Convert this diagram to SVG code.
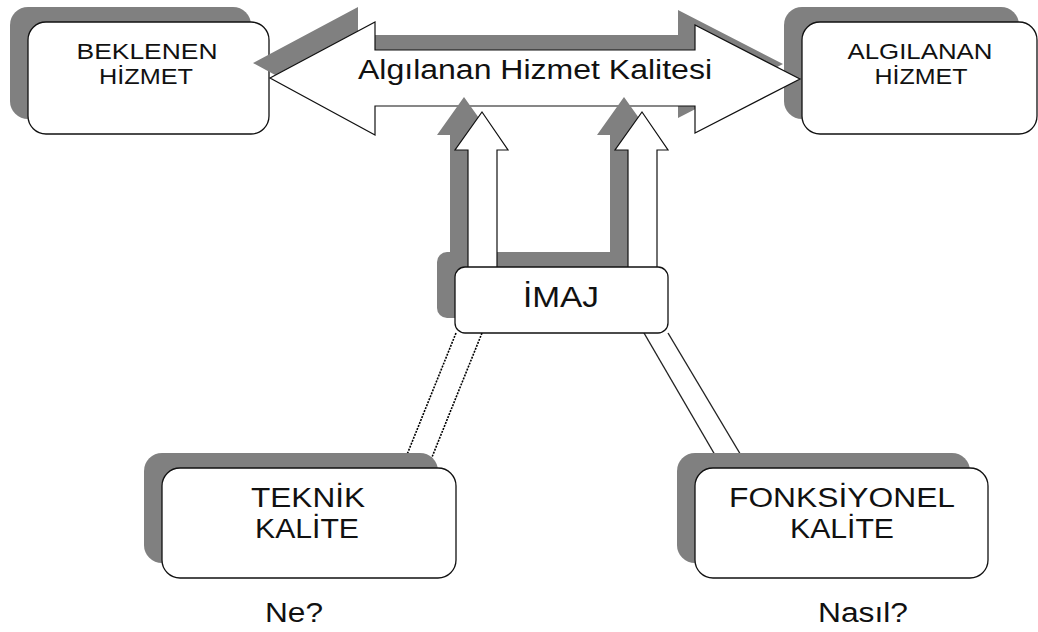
<svg xmlns="http://www.w3.org/2000/svg" width="1038" height="632" viewBox="0 0 1038 632">
<style>
.sh{fill:#808080;stroke:none}
.bx{fill:#fff;stroke:#111;stroke-width:1.3}
.ar{fill:#fff;stroke:#111;stroke-width:1.2}
.t{font-family:"Liberation Sans",Arial,sans-serif;fill:#111;text-anchor:middle}
.dot{stroke:#000;stroke-width:1.6;stroke-dasharray:2 1.2;fill:none}
.sol{stroke:#222;stroke-width:1.4;fill:none}
</style>
<rect width="1038" height="632" fill="#fff"/>
<g id="beklenen">
<rect class="sh" x="10" y="7" width="241" height="112" rx="18"/>
<rect class="bx" x="28" y="22" width="241" height="112" rx="18"/>
<text class="t" font-size="22" x="147" y="59" textLength="141" lengthAdjust="spacingAndGlyphs">BEKLENEN</text>
<text class="t" font-size="22" x="146" y="84" textLength="94" lengthAdjust="spacingAndGlyphs">HİZMET</text>
</g>
<g id="algilanan">
<rect class="sh" x="784" y="7" width="235" height="112" rx="18"/>
<rect class="bx" x="802" y="22" width="235" height="112" rx="18"/>
<text class="t" font-size="22" x="920" y="59" textLength="145" lengthAdjust="spacingAndGlyphs">ALGILANAN</text>
<text class="t" font-size="22" x="921" y="84" textLength="93" lengthAdjust="spacingAndGlyphs">HİZMET</text>
</g>
<g id="kalite-arrow">
<path class="sh" d="M253,63 L358,7 L358,35 L678,35 L678,10 L783,64 L678,118 L678,91 L358,91 L358,120 Z"/>
<path class="ar" d="M270,78 L375,22 L375,50 L695,50 L695,25 L800,79 L695,133 L695,106 L375,106 L375,135 Z"/>
<text class="t" font-size="27" x="535" y="79" textLength="354" lengthAdjust="spacingAndGlyphs">Algılanan Hizmet Kalitesi</text>
</g>
<g id="connectors">
<path class="sh" d="M464,97 L491,135 L479,135 L479,258 L450,258 L450,135 L437,135 Z"/>
<path class="sh" d="M624,97 L651,135 L639,135 L639,258 L610,258 L610,135 L597,135 Z"/>
<rect class="sh" x="437" y="252" width="213" height="66" rx="10"/>
<path class="ar" d="M482,112 L508,150 L497,150 L497,268 L468,268 L468,150 L455,150 Z"/>
<path class="ar" d="M642,112 L668,150 L657,150 L657,268 L628,268 L628,150 L615,150 Z"/>
<line class="dot" x1="456" y1="333" x2="402" y2="467"/>
<line class="dot" x1="482" y1="333" x2="428" y2="467"/>
<line class="sol" x1="644" y1="333" x2="722" y2="467"/>
<line class="sol" x1="668" y1="333" x2="748" y2="467"/>
</g>
<g id="imaj">
<rect class="bx" x="455" y="267" width="213" height="66" rx="10"/>
<text class="t" font-size="30" x="561" y="307" textLength="76" lengthAdjust="spacingAndGlyphs">İMAJ</text>
</g>
<g id="teknik">
<rect class="sh" x="144" y="453" width="294" height="110" rx="18"/>
<rect class="bx" x="162" y="468" width="294" height="110" rx="18"/>
<text class="t" font-size="27" x="308" y="507" textLength="114" lengthAdjust="spacingAndGlyphs">TEKNİK</text>
<text class="t" font-size="27" x="307" y="538" textLength="104" lengthAdjust="spacingAndGlyphs">KALİTE</text>
</g>
<g id="fonksiyonel">
<rect class="sh" x="677" y="453" width="293" height="110" rx="18"/>
<rect class="bx" x="695" y="468" width="293" height="110" rx="18"/>
<text class="t" font-size="27" x="842" y="507" textLength="226" lengthAdjust="spacingAndGlyphs">FONKSİYONEL</text>
<text class="t" font-size="27" x="842" y="538" textLength="104" lengthAdjust="spacingAndGlyphs">KALİTE</text>
</g>
<g id="labels">
<text class="t" font-size="27" x="294" y="622" textLength="58" lengthAdjust="spacingAndGlyphs">Ne?</text>
<text class="t" font-size="27" x="863" y="622" textLength="90" lengthAdjust="spacingAndGlyphs">Nasıl?</text>
</g>
</svg>
